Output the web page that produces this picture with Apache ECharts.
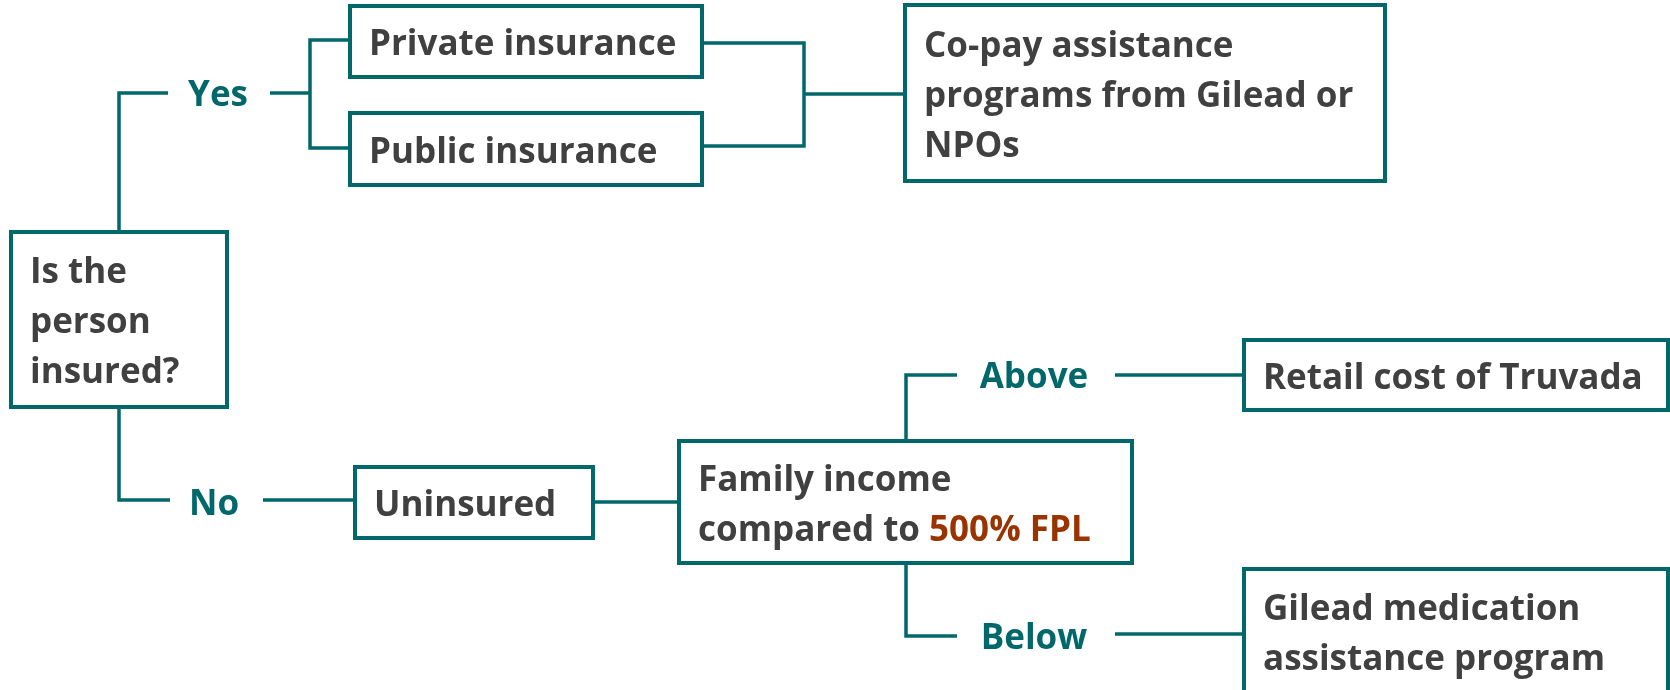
<!DOCTYPE html>
<html>
<head>
<meta charset="utf-8">
<script src="https://cdn.jsdelivr.net/npm/echarts@6/dist/echarts.min.js"></script>
<style>
html,body{margin:0;padding:0;background:#fff;}
#chart{width:1670px;height:690px;}
</style>
</head>
<body>
<div id="chart"></div>
<script>
// ---- Flowchart content (diagram units on a 0..1670 x 0..690 value space) ----
const boxTexts = [
  "Private insurance",
  "Public insurance",
  "Co-pay assistance\nprograms from Gilead or\nNPOs",
  "Is the\nperson\ninsured?",
  "Uninsured",
  "Family income\ncompared to {hl|500% FPL}",
  "Retail cost of Truvada",
  "Gilead medication\nassistance program"
];
const boxX0 = [350, 350, 905, 11, 355, 679, 1244, 1244];
const boxY0 = [6, 113, 5, 232, 467, 441, 340, 569];
const boxX1 = [702, 702, 1385, 227, 593, 1132, 1668, 1668];
const boxY1 = [77, 185, 181, 407, 538, 563, 410, 694];

const branchTexts = ["Yes", "No", "Above", "Below"];
const branchX = [218, 214, 1034, 1034];
const branchY = [93, 502, 375, 636];

const connectors = [
  [[119,232],[119,93],[168,93]],
  [[270,93],[310,93]],
  [[350,40],[310,40],[310,148],[350,148]],
  [[702,43],[804,43],[804,146],[702,146]],
  [[804,94],[905,94]],
  [[119,407],[119,500],[170,500]],
  [[263,500],[355,500]],
  [[593,502],[679,502]],
  [[906,441],[906,375],[957,375]],
  [[1115,375],[1244,375]],
  [[906,563],[906,636],[957,636]],
  [[1115,634],[1244,634]]
];

const TEAL = '#00686A';
const DARK = '#404040';
const BROWN = '#993300';
const FONT = '"Open Sans", "Noto Sans", sans-serif';
const TEXT_FONT = 'bold 35px ' + FONT;

const chart = echarts.init(document.getElementById('chart'), null, {renderer: 'canvas'});

const boxData = boxTexts.map((t, i) => [boxX0[i], boxY0[i], boxX1[i], boxY1[i], i]);
const branchData = branchTexts.map((t, i) => [branchX[i], branchY[i], i]);
const connData = connectors.map((c, i) => [c[0][0], c[0][1], i]);

chart.setOption({
  animation: false,
  backgroundColor: '#ffffff',
  grid: {left: 0, right: 0, top: 0, bottom: 0},
  xAxis: {type: 'value', min: 0, max: 1670, show: false},
  yAxis: {type: 'value', min: 0, max: 690, inverse: true, show: false},
  series: [
    {
      type: 'custom',
      z: 1,
      data: connData,
      renderItem: function (params, api) {
        const idx = api.value(2);
        const pts = connectors[idx].map(p => api.coord(p));
        return {
          type: 'polyline',
          shape: {points: pts},
          style: {stroke: TEAL, lineWidth: 3.5, fill: null, lineJoin: 'miter'}
        };
      }
    },
    {
      type: 'custom',
      z: 2,
      data: boxData,
      renderItem: function (params, api) {
        const p0 = api.coord([api.value(0), api.value(1)]);
        const p1 = api.coord([api.value(2), api.value(3)]);
        const idx = api.value(4);
        const cy = (p0[1] + p1[1]) / 2 + 4;
        return {
          type: 'group',
          children: [
            {
              type: 'rect',
              shape: {x: p0[0], y: p0[1], width: p1[0] - p0[0], height: p1[1] - p0[1]},
              style: {fill: '#ffffff', stroke: TEAL, lineWidth: 4}
            },
            {
              type: 'text',
              x: p0[0] + 19,
              y: cy,
              style: {
                text: boxTexts[idx],
                fill: DARK,
                font: TEXT_FONT,
                lineHeight: 50,
                verticalAlign: 'middle',
                align: 'left',
                rich: {
                  hl: {fill: BROWN, font: TEXT_FONT, lineHeight: 50}
                }
              }
            }
          ]
        };
      }
    },
    {
      type: 'custom',
      z: 3,
      data: branchData,
      renderItem: function (params, api) {
        const p = api.coord([api.value(0), api.value(1)]);
        const idx = api.value(2);
        return {
          type: 'text',
          x: p[0],
          y: p[1] + 3,
          style: {
            text: branchTexts[idx],
            fill: TEAL,
            font: TEXT_FONT,
            align: 'center',
            verticalAlign: 'middle'
          }
        };
      }
    }
  ]
});
</script>
</body>
</html>
